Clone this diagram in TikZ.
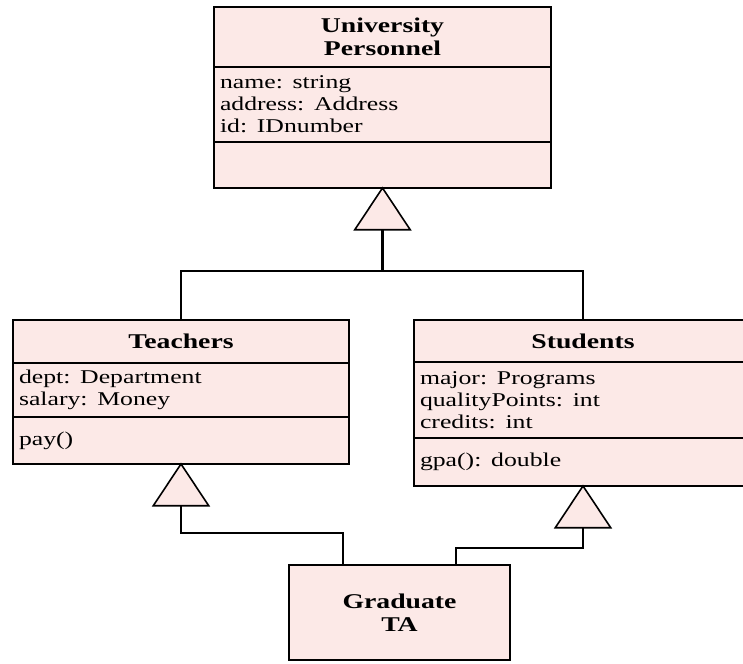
\documentclass[tikz,border=0pt]{standalone}
\usepackage{fontspec}
\setmainfont{Liberation Serif}[FakeStretch=1.32]
\usetikzlibrary{arrows.meta,positioning}
\definecolor{classfill}{RGB}{252,233,231}
\tikzset{
  head/.style={draw, line width=2.8pt, fill=classfill, inner sep=0pt, outer sep=0pt, align=center,
               font=\fontsize{21}{23}\selectfont\bfseries, anchor=north west},
  attr/.style 2 args={draw, line width=2.8pt, fill=classfill, inner xsep=6pt, inner ysep=0pt,
               outer sep=0pt, align=left, text width=#1, minimum height=#2,
               font=\fontsize{19.5}{22}\selectfont, anchor=north west},
  link/.style={line width=2.8pt},
  gen/.style={link, shorten >=-1.5pt,
              -{Triangle[open, fill=classfill, line width=1.6pt, length=44pt, width=58pt]}},
}

\begin{document}
\begin{tikzpicture}[x=1pt,y=-1pt]
  \useasboundingbox (0,0) rectangle (743,663);

  % University Personnel
  \node[head, minimum width=337pt, minimum height=60pt] (persHead) at (214,7) {University\\Personnel};
  \node[attr={325pt}{75pt}] (persAttr) at (persHead.south west) {name: string\\address: Address\\id: IDnumber};
  \node[attr={325pt}{46pt}] (persOps) at (persAttr.south west) {};

  % Teachers
  \node[head, minimum width=336pt, minimum height=43pt] (teachHead) at (13,320) {Teachers};
  \node[attr={324pt}{54pt}] (teachAttr) at (teachHead.south west) {dept: Department\\salary: Money};
  \node[attr={324pt}{47pt}] (teachOps) at (teachAttr.south west) {pay()};

  % Students
  \node[head, minimum width=338pt, minimum height=42pt] (studHead) at (414,320) {Students};
  \node[attr={326pt}{76pt}] (studAttr) at (studHead.south west) {major: Programs\\qualityPoints: int\\credits: int};
  \node[attr={326pt}{48pt}] (studOps) at (studAttr.south west) {gpa(): double};

  % Graduate TA
  \node[head, minimum width=221pt, minimum height=95pt] (gradBox) at (289,565) {Graduate\\TA};

  % generalisations
  \coordinate (joint) at (382.5,271);
  \draw[link] (teachHead.north) |- (joint) -| (studHead.north);
  \draw[gen] (joint) -- (persOps.south);

  \coordinate (gradL) at ([xshift=-56.5pt]gradBox.north);
  \coordinate (gradR) at ([xshift=56.5pt]gradBox.north);
  \draw[gen] (gradL) -- ++(0,-32) -| (teachOps.south);
  \draw[gen] (gradR) -- ++(0,-17) -| (studOps.south);
\end{tikzpicture}
\end{document}
